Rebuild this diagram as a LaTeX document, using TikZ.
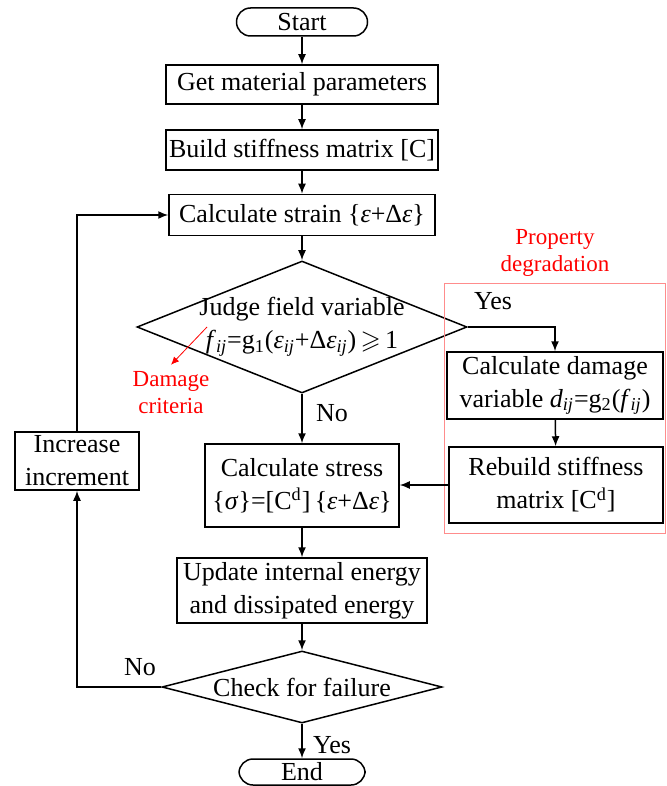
\documentclass[tikz,border=0pt]{standalone}
\usepackage{fontspec}
\setmainfont{Liberation Serif}
\usepackage{amssymb}
\usetikzlibrary{shapes.geometric,arrows.meta}

\newcommand{\sbij}{\textsubscript{\textit{ij}}}

\begin{document}
\begin{tikzpicture}[x=0.5pt, y=-0.5pt,
    font=\fontsize{13}{16.5}\selectfont,
    box/.style={draw, line width=0.75pt, align=center, inner sep=0pt},
    term/.style={box, rounded corners=7pt},
    judgebox/.style={draw, line width=0.75pt, diamond, inner sep=0pt},
    arr/.style={-{Latex[length=5pt,width=4pt]}, line width=0.75pt},
    note/.style={red, align=center, font=\fontsize{11.5}{13.5}\selectfont}]
  \useasboundingbox (0,0) rectangle (667,786);

  % main column
  \node[term, minimum width=65.5pt, minimum height=14pt] (start) at (302,22) {Start};
  \node[box, minimum width=136pt, minimum height=19.5pt] (getpar) at (302,84.5) {Get material parameters};
  \node[box, minimum width=136pt, minimum height=20pt] (build) at (302,150) {Build stiffness matrix [C]};
  \node[box, minimum width=133pt, minimum height=20.5pt] (strain) at (302,215) {Calculate strain \{\textit{ε}+Δ\textit{ε}\}};
  \node[judgebox, minimum width=165pt, minimum height=66pt,
        label={[align=center]center:Judge field variable\\
        \textit{f}\sbij=g\textsubscript{1}(\textit{ε}\sbij+Δ\textit{ε}\sbij)\,$\geqslant$\,1}] (judge) at (302,327) {};
  \node[box, minimum width=97pt, minimum height=41.5pt] (stress) at (302,485.5)
        {Calculate stress\\\{\textit{σ}\}=[C\textsuperscript{d}]\,\{\textit{ε}+Δ\textit{ε}\}};
  \node[box, minimum width=125pt, minimum height=32.5pt] (update) at (302,590.5)
        {Update internal energy\\and dissipated energy};
  \node[judgebox, minimum width=140pt, minimum height=36pt,
        label={center:Check for failure}] (check) at (302,687) {};
  \node[term, minimum width=63pt, minimum height=13pt] (end) at (302,772) {End};

  % property degradation
  \node[draw=red!45, line width=0.4pt, minimum width=110.5pt, minimum height=125pt] (degrad) at (554.5,408) {};
  \node[note] (degradtxt) at (555,253) {Property\\degradation};
  \node[box, minimum width=108pt, minimum height=33.5pt] (damage) at (555,385.5)
        {Calculate damage\\variable \textit{d}\sbij=g\textsubscript{2}(\textit{f}\sbij)};
  \node[box, minimum width=107pt, minimum height=38pt] (rebuild) at (556,485)
        {Rebuild stiffness\\matrix [C\textsuperscript{d}]};

  % loop
  \node[box, minimum width=62pt, minimum height=29pt] (incr) at (77,461) {Increase\\increment};

  % labels
  \node (yes1) at (493,301) {Yes};
  \node (no1) at (332,413) {No};
  \node (no2) at (140,667) {No};
  \node (yes2) at (332,745) {Yes};
  \node[note] (crit) at (171,393) {Damage\\criteria};
  \coordinate (critfrom) at (207,327);

  \draw[arr] (start) -- (getpar);
  \draw[arr] (getpar) -- (build);
  \draw[arr] (build) -- (strain);
  \draw[arr] (strain) -- (judge);
  \draw[arr] (judge) -- (stress);
  \draw[arr] (judge.east) -| (damage.north);
  \draw[arr] (damage) -- (rebuild);
  \draw[arr] (rebuild.west) -- (rebuild.west -| stress.east);
  \draw[arr] (stress) -- (update);
  \draw[arr] (update) -- (check);
  \draw[arr] (check) -- (end);
  \draw[arr] (check.west) -| (incr.south);
  \draw[arr] (incr.north) |- (strain.west);
  \draw[red, line width=0.4pt, -{Latex[length=4pt,width=3.5pt]}] (critfrom) -- (crit.north);
\end{tikzpicture}
\end{document}
